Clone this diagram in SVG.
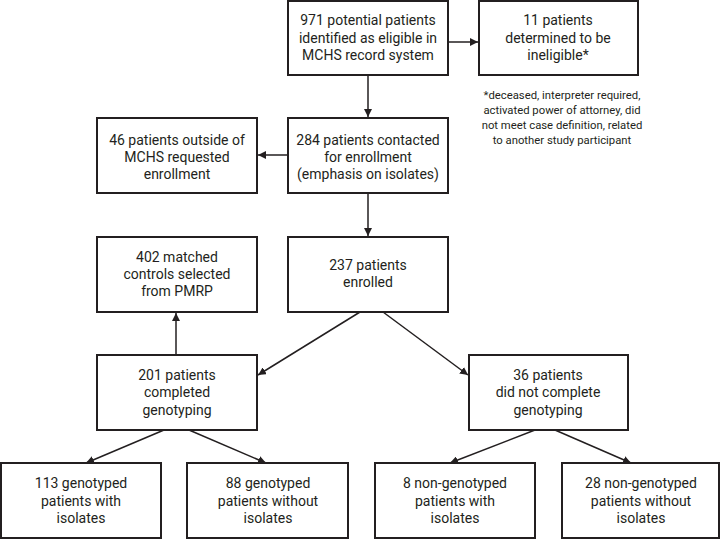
<svg xmlns="http://www.w3.org/2000/svg" width="720" height="539" viewBox="0 0 720 539">
<style>
.box{fill:#fff;stroke:#231f20;stroke-width:2}
.t{font-family:Roboto,"Liberation Sans",sans-serif;font-size:14px;fill:#231f20;text-anchor:middle}
.n{font-family:Roboto,"Liberation Sans",sans-serif;font-size:11.3px;fill:#231f20;text-anchor:middle}
.c{stroke:#231f20;stroke-width:1.5;fill:none;marker-end:url(#ah)}
</style>
<defs>
<marker id="ah" viewBox="0 0 10 10" refX="10" refY="5" markerWidth="8" markerHeight="8" markerUnits="userSpaceOnUse" orient="auto">
<path d="M0,0 L10,5 L0,10 z" fill="#231f20"/>
</marker>
</defs>
<rect width="720" height="539" fill="#fff"/>
<g id="connectors">
<line class="c" x1="448" y1="42" x2="478" y2="42"/>
<line class="c" x1="368" y1="75" x2="368" y2="117"/>
<line class="c" x1="288" y1="155" x2="258" y2="155"/>
<line class="c" x1="368" y1="193" x2="368" y2="236"/>
<line class="c" x1="176" y1="355" x2="176" y2="313"/>
<line class="c" x1="360" y1="312" x2="258" y2="375"/>
<line class="c" x1="383" y1="312" x2="468" y2="375"/>
<line class="c" x1="164" y1="430" x2="86" y2="463"/>
<line class="c" x1="189" y1="430" x2="266" y2="463"/>
<line class="c" x1="535" y1="430" x2="450" y2="463"/>
<line class="c" x1="555" y1="430" x2="631" y2="463"/>
</g>
<g id="n971">
<rect class="box" x="288" y="1" width="160" height="74"/>
<text class="t" x="368" y="25">971 potential patients</text>
<text class="t" x="368" y="43">identified as eligible in</text>
<text class="t" x="368" y="60">MCHS record system</text>
</g>
<g id="n11">
<rect class="box" x="479" y="1" width="159" height="74"/>
<text class="t" x="558" y="25">11 patients</text>
<text class="t" x="558" y="43">determined to be</text>
<text class="t" x="558" y="60">ineligible*</text>
</g>
<g id="note">
<text class="n" x="562" y="99">*deceased, interpreter required,</text>
<text class="n" x="562" y="114">activated power of attorney, did</text>
<text class="n" x="562" y="129">not meet case definition, related</text>
<text class="n" x="562" y="144">to another study participant</text>
</g>
<g id="n284">
<rect class="box" x="288" y="118" width="160" height="75"/>
<text class="t" x="368" y="145">284 patients contacted</text>
<text class="t" x="368" y="162">for enrollment</text>
<text class="t" x="368" y="179">(emphasis on isolates)</text>
</g>
<g id="n46">
<rect class="box" x="97" y="118" width="160" height="75"/>
<text class="t" x="177" y="145">46 patients outside of</text>
<text class="t" x="177" y="162">MCHS requested</text>
<text class="t" x="177" y="179">enrollment</text>
</g>
<g id="n237">
<rect class="box" x="288" y="237" width="160" height="75"/>
<text class="t" x="368" y="270">237 patients</text>
<text class="t" x="368" y="287">enrolled</text>
</g>
<g id="n402">
<rect class="box" x="97" y="237" width="160" height="75"/>
<text class="t" x="177" y="262">402 matched</text>
<text class="t" x="177" y="279">controls selected</text>
<text class="t" x="177" y="296">from PMRP</text>
</g>
<g id="n201">
<rect class="box" x="97" y="355" width="160" height="75"/>
<text class="t" x="177" y="380">201 patients</text>
<text class="t" x="177" y="397">completed</text>
<text class="t" x="177" y="415">genotyping</text>
</g>
<g id="n36">
<rect class="box" x="469" y="355" width="159" height="75"/>
<text class="t" x="548" y="380">36 patients</text>
<text class="t" x="548" y="397">did not complete</text>
<text class="t" x="548" y="415">genotyping</text>
</g>
<g id="n113">
<rect class="box" x="1" y="463" width="160" height="75"/>
<text class="t" x="81" y="488">113 genotyped</text>
<text class="t" x="81" y="506">patients with</text>
<text class="t" x="81" y="523">isolates</text>
</g>
<g id="n88">
<rect class="box" x="187" y="463" width="161" height="75"/>
<text class="t" x="268" y="488">88 genotyped</text>
<text class="t" x="268" y="506">patients without</text>
<text class="t" x="268" y="523">isolates</text>
</g>
<g id="n8">
<rect class="box" x="375" y="463" width="160" height="75"/>
<text class="t" x="455" y="488">8 non-genotyped</text>
<text class="t" x="455" y="506">patients with</text>
<text class="t" x="455" y="523">isolates</text>
</g>
<g id="n28">
<rect class="box" x="562" y="463" width="157" height="75"/>
<text class="t" x="641" y="488">28 non-genotyped</text>
<text class="t" x="641" y="506">patients without</text>
<text class="t" x="641" y="523">isolates</text>
</g>
</svg>
